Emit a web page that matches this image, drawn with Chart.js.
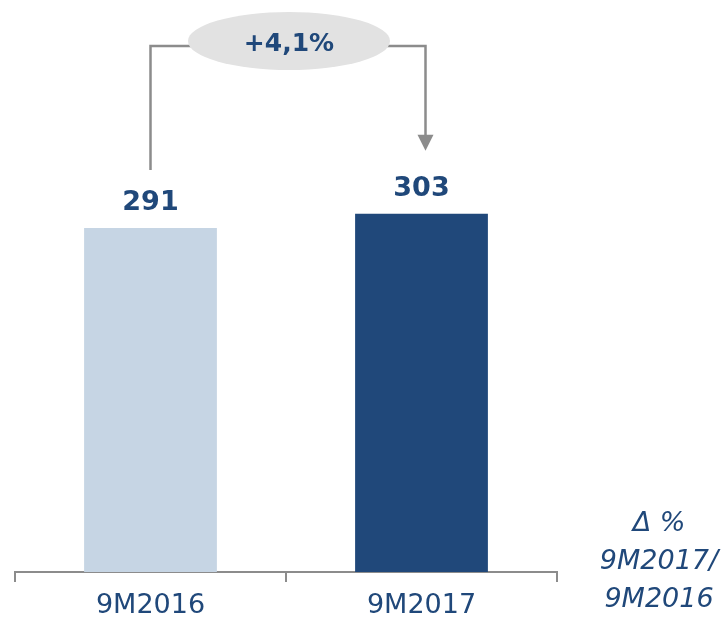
<!DOCTYPE html>
<html>
<head>
<meta charset="utf-8">
<script src="https://cdn.jsdelivr.net/npm/chart.js@4/dist/chart.umd.min.js"></script>
<style>
  html, body { margin: 0; padding: 0; background: #fff; }
  #wrap { width: 727px; height: 622px; }
</style>
</head>
<body>
<div id="wrap"><canvas id="barChart"></canvas></div>
<script>
// ---- data ----
const periods = ['9M2016', '9M2017'];
const values = [291, 303];
const barColors = ['#C6D5E4', '#20487A'];
const deltaLabel = '+4,1%';
const sideNote = ['Δ %', '9M2017/', '9M2016'];

const BLUE = '#20487A';
const GREY = '#8C8C8C';
const FONT = "'DejaVu Sans', sans-serif";

// 数值标签 + 增长箭头 + 右侧注释
const annotatePlugin = {
  id: 'annotate',
  afterDatasetsDraw(chart) {
    const ctx = chart.ctx;
    const meta = chart.getDatasetMeta(0);
    const x0 = meta.data[0].x, x1 = meta.data[1].x;
    const y0 = meta.data[0].y, y1 = meta.data[1].y;

    ctx.save();
    // value labels
    ctx.fillStyle = BLUE;
    ctx.font = 'bold 27px ' + FONT;
    ctx.textAlign = 'center';
    ctx.textBaseline = 'alphabetic';
    meta.data.forEach((bar, i) => {
      ctx.fillText(values[i], bar.x, bar.y - 18);
    });

    // bracket line
    const topY = 46;
    const cx = (x0 + x1) / 2 + 3;
    const ax = x1 + 4;
    ctx.strokeStyle = GREY;
    ctx.lineWidth = 2.5;
    ctx.beginPath();
    ctx.moveTo(x0, y0 - 58);
    ctx.lineTo(x0, topY);
    ctx.lineTo(ax, topY);
    ctx.lineTo(ax, y1 - 70);
    ctx.stroke();
    // arrow head
    ctx.fillStyle = GREY;
    ctx.beginPath();
    ctx.moveTo(ax - 8, y1 - 79);
    ctx.lineTo(ax + 8, y1 - 79);
    ctx.lineTo(ax, y1 - 63);
    ctx.closePath();
    ctx.fill();

    // ellipse
    ctx.fillStyle = '#E2E2E2';
    ctx.beginPath();
    ctx.ellipse(cx, 41, 101, 29, 0, 0, Math.PI * 2);
    ctx.fill();
    ctx.fillStyle = BLUE;
    ctx.font = 'bold 25px ' + FONT;
    ctx.textBaseline = 'middle';
    ctx.fillText(deltaLabel, cx, 44);

    // side note
    ctx.font = 'italic 27px ' + FONT;
    ctx.textBaseline = 'middle';
    sideNote.forEach((t, i) => ctx.fillText(t, 659, 524 + i * 38));
    ctx.restore();
  }
};

new Chart(document.getElementById('barChart'), {
  type: 'bar',
  data: {
    labels: periods,
    datasets: [{
      data: values,
      backgroundColor: barColors,
      borderWidth: 0,
      barPercentage: 0.49,
      categoryPercentage: 1
    }]
  },
  options: {
    responsive: true,
    maintainAspectRatio: false,
    animation: false,
    layout: { padding: { left: 15, right: 170, top: 20, bottom: 0 } },
    plugins: { legend: { display: false }, tooltip: { enabled: false } },
    scales: {
      x: {
        afterFit: s => { s.height = 50; },
        border: { display: true, color: GREY, width: 2 },
        grid: { offset: true, drawOnChartArea: false, drawTicks: true, tickLength: 10, color: GREY, lineWidth: 2 },
        ticks: { color: BLUE, font: { family: FONT, size: 27 }, padding: 8 }
      },
      y: { display: false, min: 0, max: 467 }
    }
  },
  plugins: [annotatePlugin]
});
</script>
</body>
</html>
